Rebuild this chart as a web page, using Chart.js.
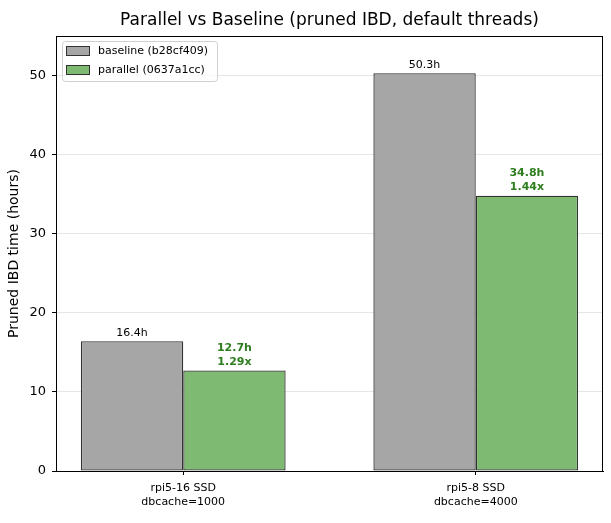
<!DOCTYPE html>
<html>
<head>
<meta charset="utf-8">
<script src="https://cdn.jsdelivr.net/npm/chart.js@4/dist/chart.umd.min.js"></script>
<style>
html,body{margin:0;padding:0;background:#fff;}
#wrap{width:611px;height:523px;}
</style>
</head>
<body>
<div id="wrap"><canvas id="c" width="611" height="523"></canvas></div>
<script>
// ---- data ----
const chartTitle = 'Parallel vs Baseline (pruned IBD, default threads)';
const categories = [["rpi5-16 SSD", "dbcache=1000"], ["rpi5-8 SSD", "dbcache=4000"]];
const seriesNames = ["baseline (b28cf409)", "parallel (0637a1cc)"];
const baselineHours = [16.4, 50.3];
const parallelHours = [12.7, 34.8];
const speedups = [1.29, 1.44];
const yTicks = [0, 10, 20, 30, 40, 50];

const FONT = "'DejaVu Sans', sans-serif";
const GREY = "#a6a6a6";
const GREEN = "#7fba72";
const LABEL_GREEN = "#2e7d1e";

const toPoints = arr => arr.map((v, i) => ({x: i, y: v}));

const framePlugin = {
  id: 'frame',
  afterDatasetsDraw(chart) {
    const {ctx, chartArea: a} = chart;
    const m0 = chart.getDatasetMeta(0), m1 = chart.getDatasetMeta(1);
    ctx.save();
    // title centred over the axes
    ctx.font = "17px " + FONT;
    ctx.fillStyle = '#000';
    ctx.textAlign = 'center';
    ctx.textBaseline = 'middle';
    ctx.fillText(chartTitle, (a.left + a.right) / 2, a.top - 15);

    ctx.textBaseline = 'alphabetic';
    m0.data.forEach((el, i) => {
      ctx.font = "11px " + FONT;
      ctx.fillStyle = '#000';
      ctx.fillText(baselineHours[i].toFixed(1) + 'h', el.x, el.y - 5);
    });
    m1.data.forEach((el, i) => {
      ctx.font = "bold 11px " + FONT;
      ctx.fillStyle = LABEL_GREEN;
      ctx.fillText(speedups[i].toFixed(2) + 'x', el.x, el.y - 6);
      ctx.fillText(parallelHours[i].toFixed(1) + 'h', el.x, el.y - 20);
    });
    // frame
    ctx.strokeStyle = '#000';
    ctx.lineWidth = 1;
    ctx.strokeRect(Math.round(a.left) + 0.5, Math.round(a.top) + 0.5,
                   Math.round(a.right - a.left) - 1, Math.round(a.bottom - a.top));
    // legend
    const lx = a.left + 6, ly = a.top + 5, lw = 155, lh = 40;
    ctx.beginPath();
    ctx.roundRect(lx + 0.5, ly + 0.5, lw, lh, 3);
    ctx.fillStyle = 'rgba(255,255,255,0.8)';
    ctx.fill();
    ctx.strokeStyle = '#d0d0d0';
    ctx.stroke();
    const cols = [GREY, GREEN];
    ctx.font = "11px " + FONT;
    ctx.textAlign = 'left';
    ctx.textBaseline = 'middle';
    seriesNames.forEach((n, i) => {
      const cy = ly + 10 + i * 19;
      ctx.fillStyle = cols[i];
      ctx.fillRect(lx + 4.5, cy - 4.5, 23, 9);
      ctx.strokeStyle = '#333';
      ctx.strokeRect(lx + 4.5, cy - 4.5, 23, 9);
      ctx.fillStyle = '#000';
      ctx.fillText(n, lx + 36, cy + 0.5);
    });
    ctx.restore();
  }
};

new Chart(document.getElementById('c'), {
  type: 'bar',
  data: {
    datasets: [
      {label: seriesNames[0], data: toPoints(baselineHours), backgroundColor: GREY, borderColor: '#333', borderWidth: 1.3, borderSkipped: false},
      {label: seriesNames[1], data: toPoints(parallelHours), backgroundColor: GREEN, borderColor: '#333', borderWidth: 1.3, borderSkipped: false}
    ]
  },
  options: {
    responsive: false,
    animation: false,
    devicePixelRatio: 1,
    categoryPercentage: 0.7,
    barPercentage: 1.0,
    layout: {padding: {left: 0, right: 8, top: 36, bottom: 0}},
    plugins: {
      legend: {display: false},
      tooltip: {enabled: false},
      title: {display: false}
    },
    scales: {
      x: {
        type: 'linear',
        min: -0.435, max: 1.435,
        offset: false,
        afterBuildTicks: s => { s.ticks = categories.map((c, i) => ({value: i})); },
        afterFit: s => { s.height = 52; },
        ticks: {
          autoSkip: false, maxRotation: 0,
          callback: (v) => categories[v] || '',
          color: '#000',
          font: {family: FONT, size: 11, lineHeight: 1.3},
          padding: 6
        },
        grid: {drawOnChartArea: false, drawTicks: true, tickLength: 4, tickColor: '#000', offset: false},
        border: {color: '#000', width: 1}
      },
      y: {
        min: 0, max: 55,
        afterBuildTicks: s => { s.ticks = yTicks.map(v => ({value: v})); },
        afterFit: s => { s.width = 56; },
        ticks: {color: '#000', font: {family: FONT, size: 13}, padding: 6},
        grid: {color: '#e6e6e6', tickColor: '#000', tickLength: 4},
        border: {color: '#000', width: 1},
        title: {display: true, text: 'Pruned IBD time (hours)', color: '#000', font: {family: FONT, size: 14}, padding: {top: 6, bottom: 0}}
      }
    }
  },
  plugins: [framePlugin]
});
</script>
</body>
</html>
